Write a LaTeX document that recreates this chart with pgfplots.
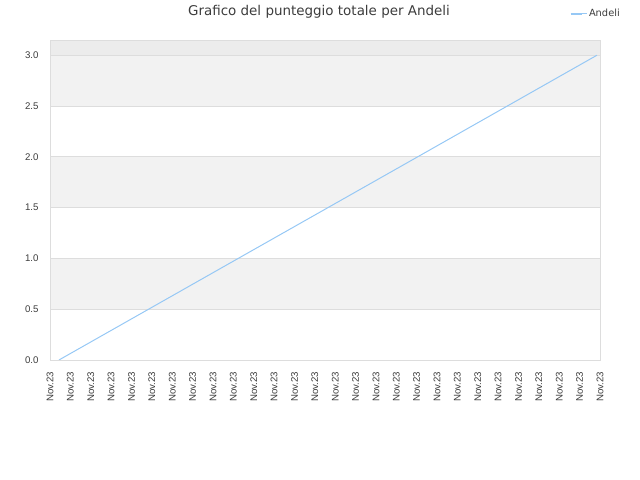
\documentclass[border=0pt]{standalone}
\usepackage{fontspec}
\setmainfont{DejaVu Sans}
\newfontfamily\tickfont{Liberation Sans}
\usepackage{pgfplots}
\pgfplotsset{compat=1.18}
\definecolor{lineblue}{RGB}{150,200,245}
\definecolor{band}{RGB}{242,242,242}
\definecolor{bandtop}{RGB}{236,236,236}
\definecolor{gridgray}{RGB}{221,221,221}
\definecolor{txt}{RGB}{60,60,60}
\begin{document}
\begin{tikzpicture}
\begin{axis}[
    set layers,
    at={(50bp,120bp)}, anchor=south west,
    width=550bp, height=320bp, scale only axis,
    xmin=0, xmax=27, ymin=0, ymax=3.15,
    xtick={0,...,27},
    xticklabel={Nov.23},
    x tick label style={rotate=90, anchor=east},
    ytick={0,0.5,...,3.0},
    yticklabel style={/pgf/number format/fixed, /pgf/number format/zerofill, /pgf/number format/precision=1},
    /pgf/number format/assume math mode=true,
    tick label style={font=\tickfont\fontsize{9.7}{11}\selectfont, text=txt},
    major tick length=0pt,
    ymajorgrids, grid style={gridgray, line width=0.8pt},
    axis line style={gridgray, line width=0.8pt},
    xticklabel shift=8.5bp, yticklabel shift=8bp,
    legend style={draw=none, fill=none, at={(1.04,1.082)}, anchor=east,
        font=\fontsize{9.9}{11}\selectfont, text=txt, inner sep=0pt},
    legend image code/.code={\draw[#1, line width=1.8pt] (0bp,0bp) -- (11bp,0bp);
        \path (11bp,0bp) -- (16bp,0bp);},
]
\begin{pgfonlayer}{axis background}
\fill[band] (axis cs:0,0.5) rectangle (axis cs:27,1.0);
\fill[band] (axis cs:0,1.5) rectangle (axis cs:27,2.0);
\fill[band] (axis cs:0,2.5) rectangle (axis cs:27,3.0);
\fill[bandtop] (axis cs:0,3.0) rectangle (axis cs:27,3.15);
\end{pgfonlayer}
\addplot[lineblue, line width=1pt] coordinates {
    (0.44,0) (9.24,1) (18.05,2) (26.85,3)
};
\addlegendentry{Andeli}
\end{axis}
\node[text=txt, font=\fontsize{13.5}{15}\selectfont] at (319bp,468bp) {Grafico del punteggio totale per Andeli};
\path (0,0) rectangle (640bp,480bp);
\end{tikzpicture}
\end{document}
